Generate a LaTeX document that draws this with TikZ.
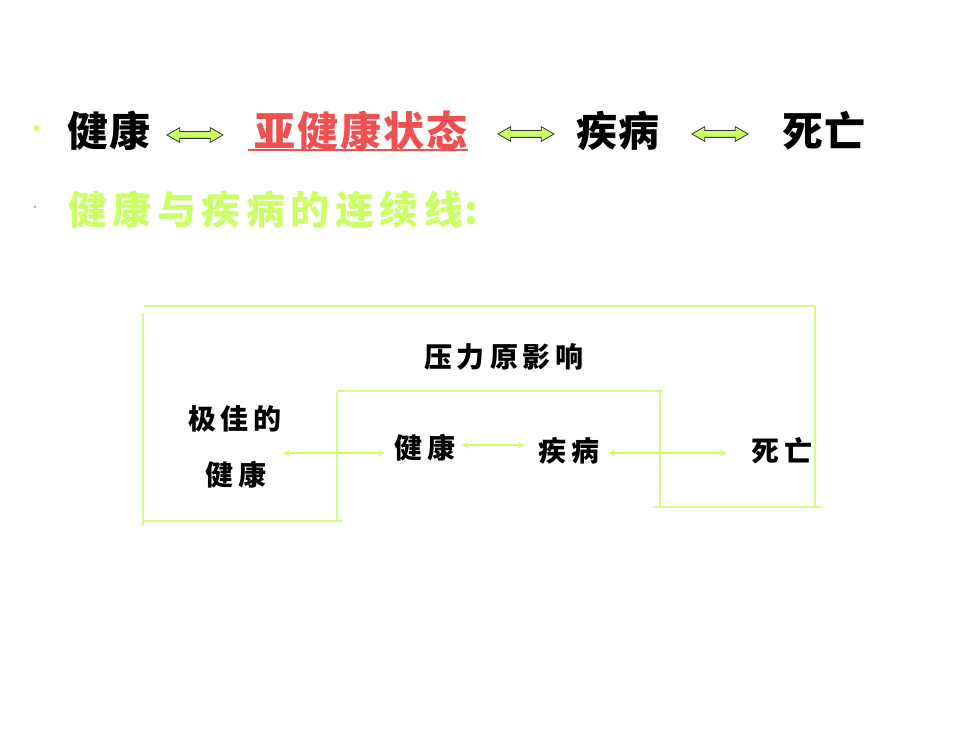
\documentclass[tikz,border=0pt]{standalone}
\usepackage{fontspec}
\newfontfamily\cjk{Noto Sans CJK SC}
\usetikzlibrary{shapes.arrows,arrows.meta}
\definecolor{lgreen}{RGB}{204,255,102}
\definecolor{boxgreen}{RGB}{214,250,140}
\definecolor{redt}{RGB}{240,80,80}
\begin{document}
\begin{tikzpicture}[x=1pt,y=-1pt,
 big/.style={inner sep=0pt, font=\cjk\bfseries\fontsize{41}{46}\selectfont\def\G{\kern2pt}},
 mid/.style={inner sep=0pt, anchor=west, font=\cjk\bfseries\fontsize{39}{44}\selectfont\def\G{\kern5.5pt}},
 small/.style={inner sep=0pt, font=\cjk\bfseries\fontsize{28}{32}\selectfont\def\G{\kern5pt}},
 blockarrow/.style={double arrow, draw=black!80, fill=lgreen, line width=0.8pt, minimum height=56pt, inner sep=3pt, double arrow head extend=4pt, double arrow tip angle=60},
 boxline/.style={draw=boxgreen, line width=1.5pt},
 thinarrow/.style={draw=lgreen, line width=1.3pt, {Stealth[length=7pt,width=6pt]}-{Stealth[length=7pt,width=6pt]}}
]
\useasboundingbox (0,0) rectangle (980,735);
\fill[white] (0,0) rectangle (980,735);

% bullets
\fill[lgreen] (37,128) circle (3);
\fill[gray!50!lgreen] (35,207) circle (1.5);

% first line
\node[big] (h1) at (109,131) {健\G 康};
\node[blockarrow] (ar1) at (195,135) {};
\node[big, text=redt] (sub) at (361,131) {亚\G 健\G 康\G 状\G 态};
\draw[redt, line width=1.5pt] (248,150) -- (468,150);
\node[blockarrow] (ar2) at (526,134) {};
\node[big] (d1) at (618,131) {疾\G 病};
\node[blockarrow] (ar3) at (720,134) {};
\node[big] (s1) at (824,131) {死\G 亡};

% second line
\node[mid, text=lgreen] (cont) at (68,210) {健\G 康\G 与\G 疾\G 病\G 的\G 连\G 续\G 线\kern1pt:};

% box lines
\draw[boxline] (144,306) -- (815,306);
\draw[boxline] (143,313) -- (143,525);
\draw[boxline] (143,521) -- (343,521);
\draw[boxline] (337,392) -- (337,521);
\draw[boxline] (337,391) -- (663,391);
\draw[boxline] (660,390) -- (660,507);
\draw[boxline] (653,507) -- (823,507);
\draw[boxline] (815,306) -- (815,508);

% diagram texts
\node[small] (stress) at (504,357) {压\G 力\G 原\G 影\G 响};
\node[small] (best) at (235,419) {极\G 佳\G 的};
\node[small] (bestb) at (236,475) {健\G 康};
\node[small] (health) at (425,448) {健\G 康};
\node[small] (ill) at (569,451) {疾\G 病};
\node[small] (death) at (782,451) {死\G 亡};

% thin arrows
\coordinate (a1s) at (283,453);
\coordinate (a1e) at (385,453);
\coordinate (a2s) at (462,445);
\coordinate (a2e) at (525,445);
\coordinate (a3s) at (608,453);
\coordinate (a3e) at (727,453);
\draw[thinarrow] (a1s) -- (a1e);
\draw[thinarrow] (a2s) -- (a2e);
\draw[thinarrow] (a3s) -- (a3e);
\end{tikzpicture}
\end{document}
